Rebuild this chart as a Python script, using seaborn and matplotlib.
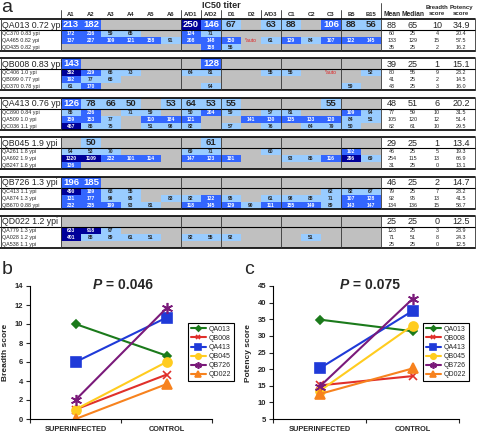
import numpy as np
import pandas as pd
import matplotlib
matplotlib.use("Agg")
import matplotlib.pyplot as plt
from matplotlib.colors import ListedColormap
import seaborn as sns

sns.set_style("white")
plt.rcParams["font.family"] = ["Liberation Sans", "DejaVu Sans"]

# ---------------- panel a: IC50 titer table ----------------
# 0 = no titer (grey), -1 = "*auto"
columns = ["A1", "A2", "A3", "A4", "A5", "A6", "A/D1", "A/D2", "D1", "D2",
           "A/D3", "C1", "C2", "C3", "B5", "B15"]
stat_headers = ["Mean", "Median", "Breadth\nscore", "Potency\nscore"]

qa013_names = ["QA013 0.72 ypi", "QC370 0.83 ypi", "QA465 0.82 ypi", "QD435 0.82 ypi"]
qa013_titers = [
    [213, 182, 0, 0, 0, 0, 250, 146, 67, 0, 63, 88, 0, 106, 88, 56],
    [172, 216, 59, 65, 0, 0, 124, 71, 0, 0, 0, 0, 0, 0, 0, 0],
    [137, 227, 109, 121, 158, 91, 208, 148, 150, -1, 61, 129, 84, 107, 122, 145],
    [0, 0, 0, 0, 0, 0, 0, 158, 56, 0, 0, 0, 0, 0, 0, 0],
]
qa013_stats = [["88", "65", "10", "34.9"], ["60", "25", "4", "20.4"],
               ["133", "129", "15", "57.5"], ["35", "25", "2", "16.2"]]

qb008_names = ["QB008 0.83 ypi", "QC406 1.0 ypi", "QB099 0.77 ypi", "QD370 0.78 ypi"]
qb008_titers = [
    [143, 0, 0, 0, 0, 0, 0, 128, 0, 0, 0, 0, 0, 0, 0, 0],
    [392, 219, 66, 73, 0, 0, 64, 81, 0, 0, 55, 56, 0, -1, 0, 52],
    [192, 77, 66, 0, 0, 0, 0, 0, 0, 0, 0, 0, 0, 0, 0, 0],
    [61, 170, 0, 0, 0, 0, 0, 94, 0, 0, 0, 0, 0, 0, 59, 0],
]
qb008_stats = [["39", "25", "1", "15.1"], ["80", "55", "9", "23.2"],
               ["41", "25", "2", "14.5"], ["43", "25", "3", "16.0"]]

qa413_names = ["QA413 0.76 ypi", "QC890 0.84 ypi", "QA509 1.0 ypi", "QC036 1.1 ypi"]
qa413_titers = [
    [126, 78, 66, 50, 0, 53, 64, 53, 55, 0, 0, 0, 0, 55, 0, 0],
    [85, 236, 0, 71, 59, 0, 50, 204, 59, 0, 57, 81, 0, 0, 109, 94],
    [159, 153, 77, 0, 110, 184, 121, 0, 0, 141, 130, 135, 133, 120, 84, 51],
    [467, 86, 75, 0, 51, 98, 82, 0, 57, 0, 76, 0, 64, 79, 50, 0],
]
qa413_stats = [["48", "51", "6", "20.2"], ["77", "59", "10", "31.5"],
               ["105", "120", "12", "51.4"], ["82", "61", "10", "29.5"]]

qb045_names = ["QB045 1.9 ypi", "QA261 1.8 ypi", "QA692 1.9 ypi", "QB247 1.8 ypi"]
qb045_titers = [
    [0, 50, 0, 0, 0, 0, 0, 61, 0, 0, 0, 0, 0, 0, 0, 0],
    [94, 53, 70, 0, 0, 0, 69, 71, 0, 0, 60, 0, 0, 0, 102, 0],
    [1320, 1109, 232, 101, 114, 0, 147, 123, 181, 0, 0, 93, 86, 116, 296, 69],
    [126, 0, 0, 0, 0, 0, 0, 0, 0, 0, 0, 0, 0, 0, 0, 0],
]
qb045_stats = [["29", "25", "1", "13.4"], ["46", "25", "5", "19.3"],
               ["254", "115", "13", "66.9"], ["31", "25", "0", "13.1"]]

qb726_names = ["QB726 1.3 ypi", "QC413 1.1 ypi", "QA874 1.3 ypi", "QB670 0.88 ypi"]
qb726_titers = [
    [196, 185, 0, 0, 0, 0, 0, 0, 0, 0, 0, 0, 0, 0, 0, 0],
    [490, 189, 68, 55, 0, 0, 0, 0, 0, 0, 0, 0, 0, 62, 82, 67],
    [131, 177, 99, 95, 0, 83, 82, 122, 95, 0, 61, 98, 88, 71, 107, 128],
    [232, 235, 199, 93, 81, 0, 118, 145, 129, 90, 111, 155, 149, 89, 143, 147],
]
qb726_stats = [["46", "25", "2", "14.7"], ["79", "25", "7", "23.2"],
               ["92", "95", "13", "41.5"], ["134", "136", "15", "58.7"]]

qd022_names = ["QD022 1.2 ypi", "QA779 1.3 ypi", "QA028 1.2 ypi", "QA538 1.1 ypi"]
qd022_titers = [
    [0] * 16,
    [633, 918, 97, 0, 0, 0, 0, 0, 0, 0, 0, 0, 0, 0, 0, 0],
    [401, 88, 89, 61, 51, 0, 82, 55, 92, 0, 0, 0, 51, 0, 0, 0],
    [0] * 16,
]
qd022_stats = [["25", "25", "0", "12.5"], ["123", "25", "3", "23.9"],
               ["71", "51", "8", "24.3"], ["25", "25", "0", "12.5"]]

blocks = [
    (qa013_names, qa013_titers, qa013_stats),
    (qb008_names, qb008_titers, qb008_stats),
    (qa413_names, qa413_titers, qa413_stats),
    (qb045_names, qb045_titers, qb045_stats),
    (qb726_names, qb726_titers, qb726_stats),
    (qd022_names, qd022_titers, qd022_stats),
]

# ---------------- panels b, c: scores ----------------
donors = ["QA013", "QB008", "QA413", "QB045", "QB726", "QD022"]
groups = ["SUPERINFECTED", "CONTROL"]
breadth_super = [10, 1, 6, 1, 2, 0]
breadth_control = [6.67, 4.67, 10.67, 6.0, 11.67, 3.67]
potency_super = [34.9, 15.1, 20.2, 13.4, 14.7, 12.5]
potency_control = [31.4, 17.9, 37.5, 33.1, 41.1, 20.2]

donor_colors = ["#1b7a1b", "#e0302a", "#1f3ad8", "#ffcc1f", "#7a1a7a", "#f7821e"]
donor_markers = ["D", "x", "s", "o", (6, 2, 0), "^"]
marker_sizes = [4.5, 6, 7, 6.5, 8, 7.5]

scores = pd.DataFrame({
    "donor": donors * 2,
    "group": [groups[0]] * 6 + [groups[1]] * 6,
    "Breadth score": breadth_super + breadth_control,
    "Potency score": potency_super + potency_control,
})

W, H = 480, 432
fig = plt.figure(figsize=(W / 100, H / 100), dpi=100)


def px_rect(x, y, w, h):
    return [x / W, 1 - (y + h) / H, w / W, h / H]


# overlay in pixel coordinates for table text and rules
ov = fig.add_axes([0, 0, 1, 1])
ov.set_xlim(0, W)
ov.set_ylim(H, 0)
ov.axis("off")
ov.set_zorder(10)
ov.patch.set_alpha(0)

cmap = ListedColormap(["#c0c0c0", "#99ccff", "#3366ff", "#000099"])
GX0, GX1, CW = 61, 381, 20
MH, SH = 11, 21
stat_x = [392, 413, 437, 461]
group_lines = [61, 181, 221, 281, 341, 381]

ov.text(1, 8, "a", fontsize=14, va="center")
ov.text(221, 5, "IC50 titer", fontsize=6.5, fontweight="bold", ha="center", va="center")
for i, c in enumerate(columns):
    ov.text(GX0 + CW * i + CW / 2, 14.5, c, fontsize=4.2, fontweight="bold",
            ha="center", va="center")
for x in [61, 181, 201, 221, 261, 281, 341]:
    ov.plot([x, x], [10, 19], color="#333333", lw=0.6)
ov.plot([381, 381], [3, 19], color="#333333", lw=0.6)
for j, txt in enumerate(stat_headers):
    ov.text(stat_x[j], 14.5 if j < 2 else 10.5, txt, fontsize=4.8 if j < 2 else 4.3,
            fontweight="bold", ha="center", va="center", linespacing=1.1)

for b, (names, titers, stats) in enumerate(blocks):
    top = 19 + 39.4 * b
    titers = np.array(titers)
    levels = np.digitize(titers, [50, 100, 250])
    annot = np.where(titers > 0, titers.astype(str), "")

    ax_m = fig.add_axes(px_rect(GX0, top, GX1 - GX0, MH))
    ax_s = fig.add_axes(px_rect(GX0, top + MH, GX1 - GX0, SH))
    sns.heatmap(levels[:1], ax=ax_m, cmap=cmap, vmin=-0.5, vmax=3.5, cbar=False,
                annot=annot[:1], fmt="", annot_kws={"fontsize": 6.8, "fontweight": "bold"},
                xticklabels=False, yticklabels=False)
    sns.heatmap(levels[1:], ax=ax_s, cmap=cmap, vmin=-0.5, vmax=3.5, cbar=False,
                annot=annot[1:], fmt="", annot_kws={"fontsize": 3.6, "fontweight": "bold"},
                xticklabels=False, yticklabels=False)
    for r, c in zip(*np.where(titers == -1)):
        ax = ax_m if r == 0 else ax_s
        row = 0 if r == 0 else r - 1
        ax.text(c + 0.5, row + 0.5, "*auto", color="#e02020", fontsize=3.6,
                ha="center", va="center")

    # row labels and summary statistics
    ov.text(2, top + MH / 2 + 0.5, names[0], fontsize=6.3, va="center")
    for j, s in enumerate(stats[0]):
        ov.text(stat_x[j], top + MH / 2 + 0.5, s, fontsize=6.5, ha="center", va="center")
    for r in range(1, 4):
        y = top + MH + SH / 6 * (2 * r - 1)
        ov.text(2, y, names[r], fontsize=3.9, va="center")
        for j, s in enumerate(stats[r]):
            ov.text(stat_x[j], y, s, fontsize=3.9, ha="center", va="center")

    # rules
    ov.plot([0, 475], [top, top], color="black", lw=1.2)
    ov.plot([0, 475], [top + MH, top + MH], color="black", lw=0.8)
    ov.plot([0, 475], [top + MH + SH, top + MH + SH], color="black", lw=1.2)
    for x in [0.5] + group_lines + [475]:
        ov.plot([x, x], [top, top + MH + SH], color="#333333", lw=0.6)


def score_panel(rect, col, ylim, yticks, pval, title_x, legend_x, letter, letter_x):
    ax = fig.add_axes(px_rect(*rect))
    for d, c, m, s in zip(donors, donor_colors, donor_markers, marker_sizes):
        sns.lineplot(data=scores[scores["donor"] == d], x="group", y=col, color=c,
                     marker=m, markersize=s, markeredgecolor=c, markeredgewidth=1.2,
                     linewidth=1.5, errorbar=None, label=d, legend=False, ax=ax)
    ax.set_xlim(-0.5, 1.5)
    ax.set_ylim(*ylim)
    ax.set_yticks(yticks)
    ax.set_xticks([0, 1])
    ax.set_xticklabels(groups, fontsize=5.3, fontweight="bold")
    ax.set_xticks([-0.5, 0.5, 1.5], minor=True)
    ax.tick_params(axis="x", which="major", bottom=True, length=0, pad=5)
    ax.tick_params(axis="x", which="minor", bottom=True, length=3, width=0.8)
    ax.tick_params(axis="y", left=True, length=3, width=0.8, labelsize=5.5, pad=2)
    for lbl in ax.get_yticklabels():
        lbl.set_fontweight("bold")
    sns.despine(ax=ax)
    for sp in ["left", "bottom"]:
        ax.spines[sp].set_color("black")
        ax.spines[sp].set_linewidth(0.8)
    ax.set_xlabel("")
    ax.set_ylabel(col, fontsize=6, fontweight="bold", labelpad=4)

    leg = ax.legend(loc="upper left", bbox_to_anchor=(legend_x / W, 1 - 323 / H),
                    bbox_transform=fig.transFigure, fontsize=5, frameon=True,
                    fancybox=False, edgecolor="black", framealpha=1, handlelength=2.2,
                    handletextpad=0.4, borderpad=0.4, labelspacing=0.3,
                    markerscale=0.6, borderaxespad=0)
    leg.get_frame().set_linewidth(0.8)

    fig.text(title_x / W, 1 - 285 / H, "P", fontsize=10, fontweight="bold",
             fontstyle="italic", ha="right", va="center")
    fig.text(title_x / W, 1 - 285 / H, " = " + pval, fontsize=10, fontweight="bold",
             ha="left", va="center")
    fig.text(letter_x / W, 1 - 270 / H, letter, fontsize=14, va="center")
    return ax


score_panel((30, 286, 182, 133), "Breadth score", (0, 14), range(0, 15, 2), "0.046",
            102, 188, "b", 2)
score_panel((273, 286, 186, 133), "Potency score", (5, 45), range(5, 46, 5), "0.075",
            349, 423, "c", 244)

fig.savefig("out.png", dpi=100)
